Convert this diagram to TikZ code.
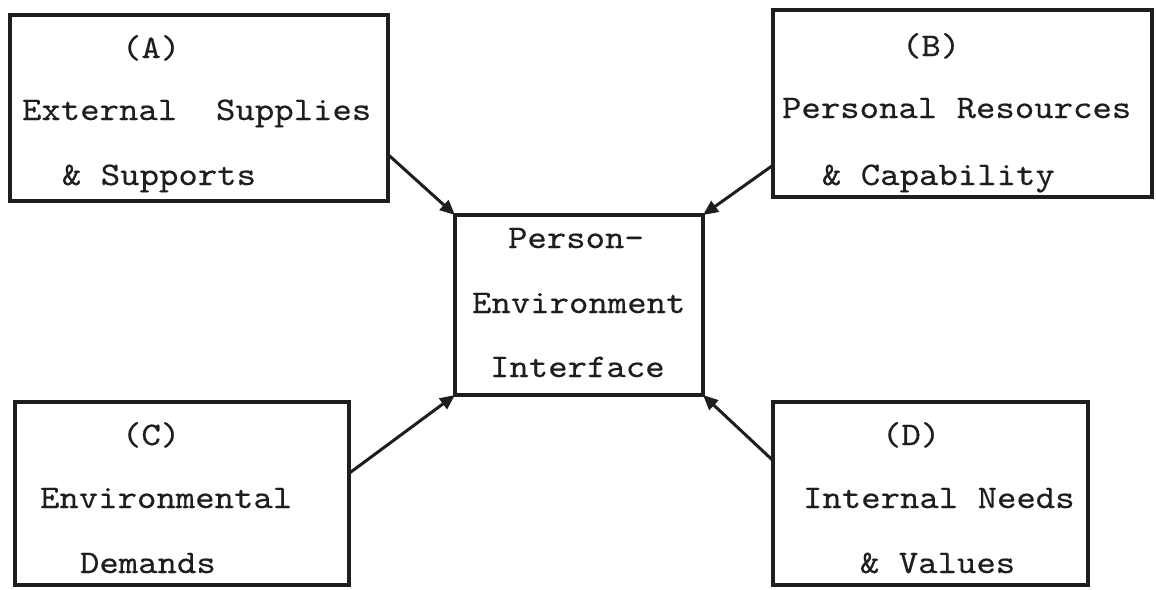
\documentclass[tikz,border=0pt]{standalone}
\usepackage{fontspec}
\newfontfamily\typewriter[FakeBold=0.35,FakeStretch=1.12]{lmmono10-regular.otf}
\usetikzlibrary{arrows.meta,calc}
\definecolor{ink}{HTML}{1E1E1E}
\tikzset{
  x=1pt, y=-1pt,
  box/.style={draw=ink, line width=3.6pt, inner sep=0pt, outer sep=0pt, anchor=north west},
  txt/.style={anchor=base west, inner sep=0pt, outer sep=0pt, text=ink,
              font=\typewriter\fontsize{33}{39}\selectfont},
  link/.style={draw=ink, line width=3pt, line cap=round,
               -{Triangle[length=15pt,width=13pt]}}
}
\begin{document}
\begin{tikzpicture}
\useasboundingbox (0,0) rectangle (1156,589);

% outer boxes
\node[box, minimum width=378pt, minimum height=186pt] (A) at (10,15) {};
\node[box, minimum width=379pt, minimum height=187pt] (B) at (773,10) {};
\node[box, minimum width=334pt, minimum height=183pt] (C) at (15,402) {};
\node[box, minimum width=315pt, minimum height=183pt] (D) at (773,402) {};
% central box
\node[box, minimum width=248pt, minimum height=180pt] (P) at (455,215) {};

% texts of box A
\node[txt] (A1) at (122,58) {(A)};
\node[txt] (A2) at (22,120) {External\ \ Supplies};
\node[txt] (A3) at (62,185) {\& Supports};
% texts of box B
\node[txt] (B1) at (902,56) {(B)};
\node[txt] (B2) at (782,118) {Personal Resources};
\node[txt] (B3) at (822,185) {\& Capability};
% texts of the central box
\node[txt] (P1) at (508,248) {Person-};
\node[txt] (P2) at (472,313) {Environment};
\node[txt] (P3) at (490,377) {Interface};
% texts of box C
\node[txt] (C1) at (122,445) {(C)};
\node[txt] (C2) at (40,508) {Environmental};
\node[txt] (C3) at (80,573) {Demands};
% texts of box D
\node[txt] (D1) at (882,445) {(D)};
\node[txt] (D2) at (803,508) {Internal Needs};
\node[txt] (D3) at (860,573) {\& Values};

% arrows into the corners of the central box
\draw[link] ($(A.north east)!0.75!(A.south east)$) -- (P.north west);
\draw[link] ($(B.north west)!0.83!(B.south west)$) -- (P.north east);
\draw[link] ($(C.north east)!0.39!(C.south east)$) -- (P.south west);
\draw[link] ($(D.north west)!0.32!(D.south west)$) -- (P.south east);
\end{tikzpicture}
\end{document}
